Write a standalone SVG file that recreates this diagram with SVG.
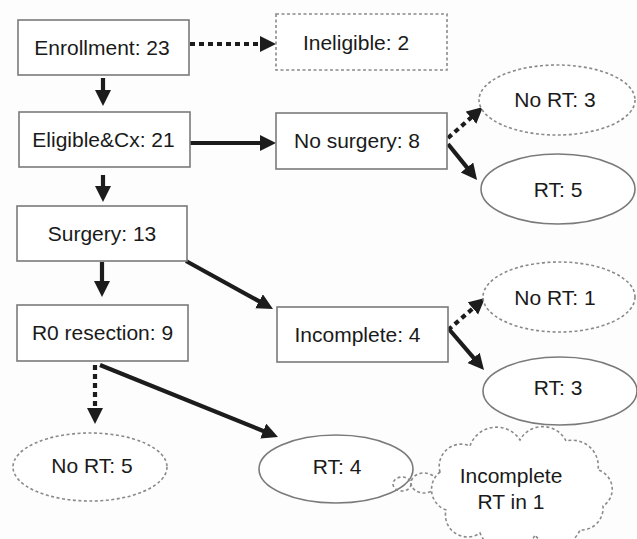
<svg xmlns="http://www.w3.org/2000/svg" width="637" height="539" viewBox="0 0 637 539">
<style>
.box{fill:#fff;stroke:#7a7a7a;stroke-width:1.6}
.dbox{fill:#fff;stroke:#8a8a8a;stroke-width:1.6;stroke-dasharray:3 2.5}
.ell{fill:#fff;stroke:#7a7a7a;stroke-width:1.6}
.dell{fill:#fff;stroke:#8a8a8a;stroke-width:1.6;stroke-dasharray:3 2.5}
.t{font-family:"Liberation Sans",Arial,sans-serif;font-size:21px;fill:#1a1a1a;text-anchor:middle}
.a{stroke:#1c1c1c;stroke-width:4.2;fill:none;marker-end:url(#ah)}
.ad{stroke:#1c1c1c;stroke-width:4.2;fill:none;stroke-dasharray:5 4;marker-end:url(#ah)}
</style>
<defs>
<marker id="ah" markerUnits="userSpaceOnUse" markerWidth="17" markerHeight="17" refX="4" refY="8" orient="auto">
<path d="M0,0 L16,8 L0,16 z" fill="#1c1c1c"/>
</marker>
</defs>
<rect width="637" height="539" fill="#fdfdfd"/>
<g id="connectors">
<line class="ad" x1="190" y1="44" x2="264" y2="44"/>
<line class="a" x1="103" y1="78" x2="103" y2="94"/>
<line class="a" x1="190" y1="143" x2="264" y2="143"/>
<line class="a" x1="103" y1="175" x2="103" y2="190"/>
<line class="a" x1="102" y1="262" x2="102" y2="285"/>
<line class="a" x1="186" y1="261" x2="262.5" y2="303.2"/>
<line class="ad" x1="95" y1="365" x2="95" y2="412"/>
<line class="a" x1="100" y1="365" x2="266.9" y2="432.5"/>
<line class="ad" x1="448" y1="138" x2="474.0" y2="115.0"/>
<line class="a" x1="448" y1="144" x2="469.5" y2="170.6"/>
<line class="ad" x1="448" y1="330" x2="475.9" y2="305.8"/>
<line class="a" x1="448" y1="328" x2="476.2" y2="360.9"/>
</g>
<g id="enrollment"><rect class="box" x="18" y="20" width="171" height="55"/><text class="t" x="102" y="55">Enrollment: 23</text></g>
<g id="ineligible"><rect class="dbox" x="276" y="14" width="171" height="56"/><text class="t" x="356" y="50">Ineligible: 2</text></g>
<g id="eligible"><rect class="box" x="19" y="112" width="171" height="55"/><text class="t" x="103.5" y="147">Eligible&amp;Cx: 21</text></g>
<g id="nosurgery"><rect class="box" x="276" y="113" width="171" height="56"/><text class="t" x="357" y="148">No surgery: 8</text></g>
<g id="surgery"><rect class="box" x="17" y="206" width="170" height="55"/><text class="t" x="102" y="241">Surgery: 13</text></g>
<g id="r0"><rect class="box" x="17" y="305" width="171" height="56"/><text class="t" x="102.5" y="340">R0 resection: 9</text></g>
<g id="incomplete"><rect class="box" x="277" y="307" width="171" height="55"/><text class="t" x="357.5" y="342">Incomplete: 4</text></g>
<g id="nort3"><ellipse class="dell" cx="557" cy="100" rx="78" ry="35"/><text class="t" x="555" y="107">No RT: 3</text></g>
<g id="rt5"><ellipse class="ell" cx="558" cy="189" rx="77" ry="35"/><text class="t" x="558" y="197">RT: 5</text></g>
<g id="nort1"><ellipse class="dell" cx="559" cy="297" rx="76" ry="35"/><text class="t" x="555" y="305">No RT: 1</text></g>
<g id="rt3"><ellipse class="ell" cx="560" cy="391" rx="77" ry="34"/><text class="t" x="558" y="395">RT: 3</text></g>
<g id="nort5"><ellipse class="dell" cx="90" cy="467" rx="77" ry="34"/><text class="t" x="92" y="473">No RT: 5</text></g>
<g id="rt4"><ellipse class="ell" cx="336" cy="469" rx="77" ry="34"/><text class="t" x="337" y="474">RT: 4</text></g>
<g id="cloud">
<ellipse class="dell" style="fill:none" cx="402" cy="484" rx="9" ry="7"/>
<ellipse class="dell" style="fill:none" cx="424" cy="483" rx="13" ry="10"/>
<path class="dell" style="fill:#fff" d="M440,472 A22,22 0 0 1 470,446 A28,28 0 0 1 520,440 A26,26 0 0 1 566,441 A26,26 0 0 1 598,470 A20,20 0 0 1 603,506 A22,22 0 0 1 580,530 A26,26 0 0 1 535,535 A30,30 0 0 1 480,533 A22,22 0 0 1 446,510 A22,22 0 0 1 440,472 Z"/>
<text class="t" x="511" y="483">Incomplete</text>
<text class="t" x="511" y="509">RT in 1</text>
</g>
</svg>
